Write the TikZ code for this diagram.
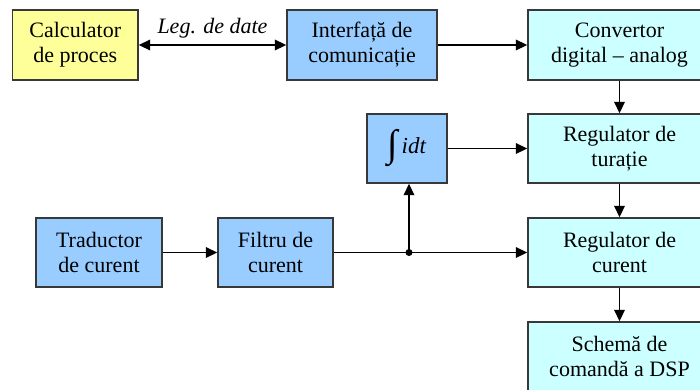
\documentclass[tikz,border=0pt]{standalone}
\usepackage{fontspec}
\setmainfont{Liberation Serif}
\usetikzlibrary{arrows.meta}
\definecolor{boxyellow}{HTML}{FFFF99}
\definecolor{boxblue}{HTML}{99CCFF}
\definecolor{boxcyan}{HTML}{CCFFFF}
\definecolor{rim}{HTML}{383838}
\begin{document}
\begin{tikzpicture}[x=1pt,y=-1pt,
  blk/.style={draw=rim, line width=1.4pt, rectangle, align=center,
    inner sep=0pt, font=\fontsize{22}{25}\selectfont, text=black},
  ybox/.style={blk, fill=boxyellow},
  bbox/.style={blk, fill=boxblue},
  cbox/.style={blk, fill=boxcyan},
  flow/.style={line width=1.8pt, -{Triangle[length=11.5pt,width=10.5pt]}},
  both/.style={line width=1.8pt, {Triangle[length=11.5pt,width=10.5pt]}-{Triangle[length=11.5pt,width=10.5pt]}}]
\useasboundingbox (0,0) rectangle (700,389);
\clip (0,0) rectangle (700,389);

% top row
\node[ybox, minimum width=125.5pt, minimum height=70pt] (calc) at (75.25,45) {Calculator\\de proces};
\node[bbox, minimum width=150pt, minimum height=70pt] (intf) at (362,45) {Interfață de\\comunicație};
\node[cbox, minimum width=183pt, minimum height=70pt] (conv) at (619.5,45) {Convertor\\digital – analog};

% middle row
\node[bbox, minimum width=80pt, minimum height=69pt] (integ) at (407,148.5)
  {\raisebox{-0.3ex}{\fontsize{38}{38}\selectfont ∫}\,\textit{\fontsize{23}{25}\selectfont idt}};
\node[cbox, minimum width=183pt, minimum height=69pt] (regt) at (619.5,148.5) {Regulator de\\turație};

% lower row
\node[bbox, minimum width=126pt, minimum height=69pt] (trad) at (99,252.5) {Traductor\\de curent};
\node[bbox, minimum width=115pt, minimum height=69pt] (filt) at (275.5,252.5) {Filtru de\\curent};
\node[cbox, minimum width=183pt, minimum height=69pt] (regc) at (619.5,252.5) {Regulator de\\curent};
\node[cbox, minimum width=183pt, minimum height=69pt] (sch) at (619.5,356.5) {Schemă de\\comandă a DSP};

% junction on the filtered current line
\coordinate (jn) at (409,252.5);
\fill (jn) circle (3.5pt);

% connectors
\draw[both] (calc) -- node[above=3pt, font=\fontsize{22}{25}\selectfont\itshape] (lbl) {Leg. de date} (intf);
\draw[flow] (intf) -- (conv);
\draw[flow] (conv) -- (regt);
\draw[flow] (integ) -- (regt);
\draw[flow] (regt) -- (regc);
\draw[flow] (regc) -- (sch);
\draw[flow] (trad) -- (filt);
\draw[flow] (filt) -- (regc);
\draw[flow] (jn) -- (jn |- integ.south);
\end{tikzpicture}
\end{document}
